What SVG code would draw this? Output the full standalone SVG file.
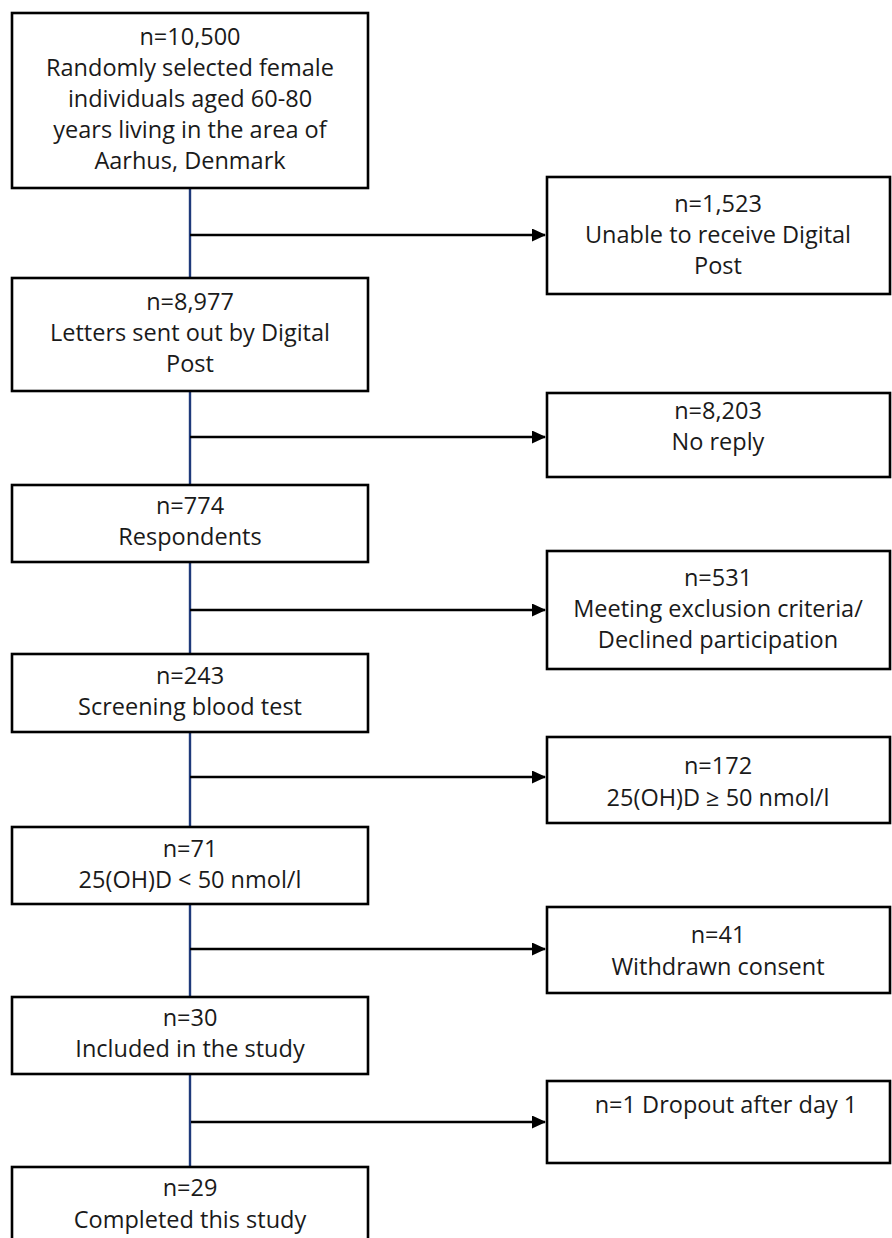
<svg xmlns="http://www.w3.org/2000/svg" width="892" height="1238" viewBox="0 0 892 1238">
<defs>
<marker id="ah" markerWidth="14" markerHeight="13" refX="13" refY="6.5" orient="auto" markerUnits="userSpaceOnUse" viewBox="0 0 14 13">
<path d="M0,0 L14,6.5 L0,13 Z" fill="#000"/>
</marker>
<style>
rect.box{fill:#fff;stroke:#000;stroke-width:2.6}
text{font-family:"Open Sans","Noto Sans",sans-serif;font-size:23.5px;fill:#1a1a1a;text-anchor:middle}
.vline{stroke:#1f3a7a;stroke-width:2.4;fill:none}
.harr{stroke:#000;stroke-width:2.4;fill:none}
</style>
</defs>
<rect width="892" height="1238" fill="#fff"/>
<g id="connectors">
<line class="vline" x1="190" y1="188" x2="190" y2="1167"/>
<line class="harr" x1="190" y1="235" x2="545" y2="235" marker-end="url(#ah)"/>
<line class="harr" x1="190" y1="437" x2="545" y2="437" marker-end="url(#ah)"/>
<line class="harr" x1="190" y1="610" x2="545" y2="610" marker-end="url(#ah)"/>
<line class="harr" x1="190" y1="777" x2="545" y2="777" marker-end="url(#ah)"/>
<line class="harr" x1="190" y1="949" x2="545" y2="949" marker-end="url(#ah)"/>
<line class="harr" x1="191" y1="1122" x2="545" y2="1122" marker-end="url(#ah)"/>
</g>
<g id="n10500">
<rect class="box" x="12" y="13" width="356" height="175"/>
<text x="190" y="45">n=10,500</text>
<text x="190" y="76">Randomly selected female</text>
<text x="190" y="107">individuals aged 60-80</text>
<text x="190" y="138">years living in the area of</text>
<text x="190" y="169">Aarhus, Denmark</text>
</g>
<g id="n8977">
<rect class="box" x="12" y="278" width="356" height="113"/>
<text x="190" y="310">n=8,977</text>
<text x="190" y="341">Letters sent out by Digital</text>
<text x="190" y="372">Post</text>
</g>
<g id="n774">
<rect class="box" x="12" y="485" width="356" height="77"/>
<text x="190" y="514">n=774</text>
<text x="190" y="545">Respondents</text>
</g>
<g id="n243">
<rect class="box" x="12" y="654" width="356" height="78"/>
<text x="190" y="684">n=243</text>
<text x="190" y="715">Screening blood test</text>
</g>
<g id="n71">
<rect class="box" x="12" y="827" width="356" height="77"/>
<text x="190" y="857">n=71</text>
<text x="190" y="888">25(OH)D &lt; 50 nmol/l</text>
</g>
<g id="n30">
<rect class="box" x="12" y="997" width="356" height="77"/>
<text x="190" y="1026">n=30</text>
<text x="190" y="1057">Included in the study</text>
</g>
<g id="n29">
<rect class="box" x="12" y="1167" width="356" height="90"/>
<text x="190" y="1196">n=29</text>
<text x="190" y="1228">Completed this study</text>
</g>
<g id="n1523">
<rect class="box" x="547" y="177" width="343" height="117"/>
<text x="718" y="212">n=1,523</text>
<text x="718" y="243">Unable to receive Digital</text>
<text x="718" y="274">Post</text>
</g>
<g id="n8203">
<rect class="box" x="547" y="393" width="343" height="84"/>
<text x="718" y="419">n=8,203</text>
<text x="718" y="450">No reply</text>
</g>
<g id="n531">
<rect class="box" x="547" y="551" width="343" height="118"/>
<text x="718" y="586">n=531</text>
<text x="718" y="617">Meeting exclusion criteria/</text>
<text x="718" y="648">Declined participation</text>
</g>
<g id="n172">
<rect class="box" x="547" y="737" width="343" height="86"/>
<text x="718" y="774">n=172</text>
<text x="718" y="806">25(OH)D ≥ 50 nmol/l</text>
</g>
<g id="n41">
<rect class="box" x="547" y="907" width="343" height="86"/>
<text x="718" y="943">n=41</text>
<text x="718" y="975">Withdrawn consent</text>
</g>
<g id="n1">
<rect class="box" x="547" y="1081" width="343" height="82"/>
<text x="726" y="1113">n=1 Dropout after day 1</text>
</g>
</svg>
